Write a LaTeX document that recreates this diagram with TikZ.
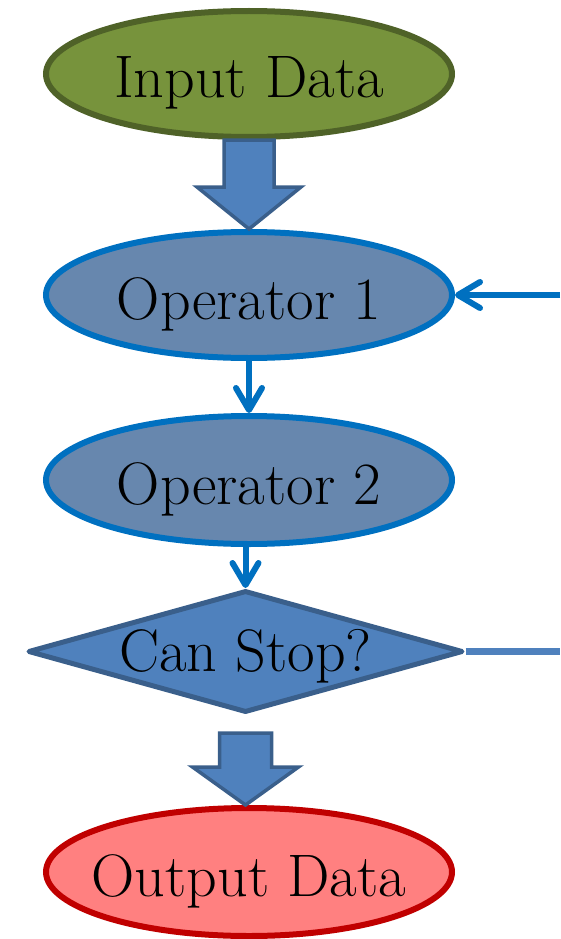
\documentclass[tikz,border=0pt]{standalone}
\usepackage{fontspec}
\newfontfamily\chartfont{Latin Modern Roman}
\usetikzlibrary{shapes.geometric,arrows.meta,calc}

\definecolor{olivefill}{HTML}{77933C}
\definecolor{oliveedge}{HTML}{4F6228}
\definecolor{opfill}{HTML}{6787AE}
\definecolor{opblue}{HTML}{0070C0}
\definecolor{arrowfill}{HTML}{4F81BD}
\definecolor{arrowedge}{HTML}{3A5F8B}
\definecolor{outfill}{HTML}{FF8080}
\definecolor{outedge}{HTML}{C00000}

\begin{document}
\begin{tikzpicture}[x=1pt,y=-1pt,
  caption/.style={font=\chartfont\fontsize{60}{68}\selectfont, text height=60pt, text depth=12pt, inner sep=0pt},
  oval/.style={ellipse, line width=6pt, minimum width=406pt, minimum height=126pt, inner sep=0pt},
  blockarrow/.style={fill=arrowfill, draw=arrowedge, line width=3.5pt, line join=miter},
  link/.style={draw=opblue, line width=6pt, -{Straight Barb[length=22pt,width=26pt,round]}},
  loopline/.style={draw=arrowfill, line width=7pt}
]
\useasboundingbox (0,0) rectangle (560,939);

% flowchart steps
\node[oval, fill=olivefill, draw=oliveedge, label={[caption]center:Input Data}] (in) at (249,74) {};
\node[oval, fill=opfill, draw=opblue, label={[caption]center:Operator 1}] (op1) at (249,295) {};
\node[oval, fill=opfill, draw=opblue, minimum height=128pt, label={[caption]center:Operator 2}] (op2) at (249,480) {};
\node[diamond, fill=arrowfill, draw=arrowedge, line width=5pt, line join=round,
      minimum width=435pt, minimum height=122pt, inner sep=0pt,
      label={[caption, text height=54pt, text depth=14pt]center:Can Stop?}] (stop) at (245.5,651.5) {};
\node[oval, fill=outfill, draw=outedge, minimum height=128pt, label={[caption]center:Output Data}] (out) at (249,872) {};

% wide block arrows
\draw[blockarrow] let \p1=(in.south), \p2=(op1.north) in
  (\x2-25pt,\y1) -- (\x2+25pt,\y1) -- (\x2+25pt,\y2+42pt) -- (\x2+52pt,\y2+42pt)
  -- (\p2) -- (\x2-52pt,\y2+42pt) -- (\x2-25pt,\y2+42pt) -- cycle;
\draw[blockarrow] let \p1=(stop.south), \p2=(out.north) in
  (\x1-26pt,\y1-18pt) -- (\x1+26pt,\y1-18pt) -- (\x1+26pt,\y2+38pt) -- (\x1+53pt,\y2+38pt)
  -- (\x1,\y2) -- (\x1-53pt,\y2+38pt) -- (\x1-26pt,\y2+38pt) -- cycle;

% thin connectors
\draw[link] (op1.south) -- (op2.north);
\draw[link] (op2.south -| stop.north) -- (stop.north);

% loop back towards the first operator
\coordinate (loopout) at (560,651.5);
\coordinate (loopin) at (560,295);
\draw[loopline] (stop.east) -- (loopout);
\draw[link] (loopin) -- (op1.east);
\end{tikzpicture}
\end{document}
